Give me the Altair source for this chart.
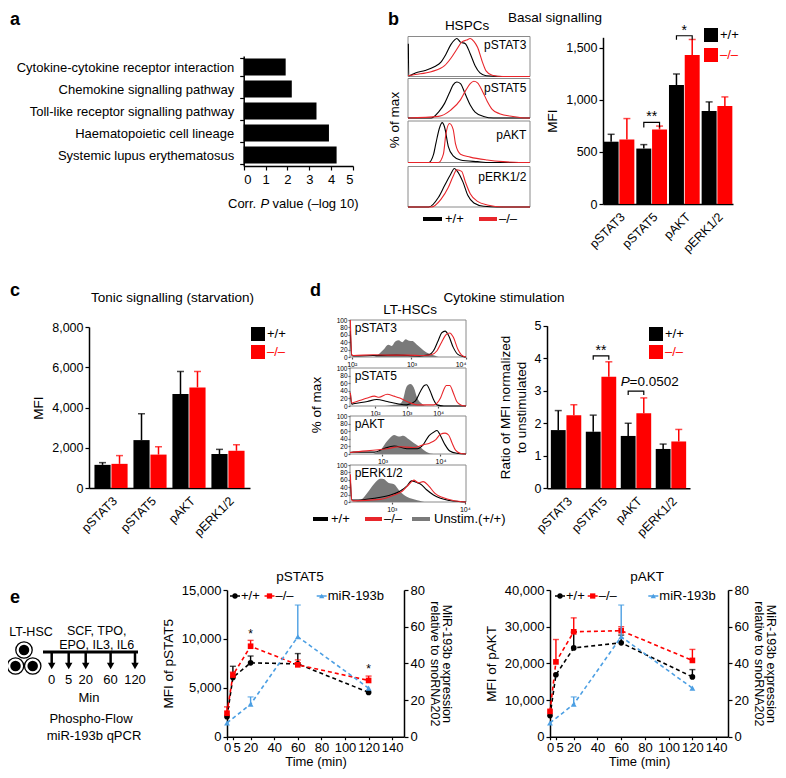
import altair as alt
import pandas as pd

W, H = 770, 762
FONT = "Liberation Sans"
RED = "#ff0000"
LRED = "#e8262b"
BLUE = "#4c9fe3"
GRAY = "#7a7a7a"


def X(p):
    return p - 8.0


def Y(p):
    return p - 8.0


# ---------------- data ----------------
pathways = [
    "Cytokine-cytokine receptor interaction",
    "Chemokine signalling pathway",
    "Toll-like receptor signalling pathway",
    "Haematopoietic cell lineage",
    "Systemic lupus erythematosus",
]
pathway_logp = [1.92, 2.2, 3.33, 3.9, 4.25]

proteins = ["pSTAT3", "pSTAT5", "pAKT", "pERK1/2"]
genotypes = ["+/+", "–/–"]

basal_wt = [598, 532, 1141, 893]
basal_wt_err = [669, 570, 1248, 980]
basal_ko = [619, 716, 1431, 941]
basal_ko_err = [820, 748, 1579, 1028]

tonic_wt = [1150, 2380, 4670, 1690]
tonic_wt_err = [1260, 3690, 5790, 1920]
tonic_ko = [1200, 1660, 5000, 1850]
tonic_ko_err = [1610, 2050, 5790, 2150]

stim_wt = [1.79, 1.74, 1.61, 1.21]
stim_wt_err = [2.39, 2.25, 2.00, 1.36]
stim_ko = [2.25, 3.43, 2.31, 1.44]
stim_ko_err = [2.57, 3.89, 2.78, 1.81]

# histograms, panel b (x: % of box width, y: % of max)
hb_stat3_wt_x = [0.3, 0.6, 2, 6, 14, 22, 27, 31, 35, 38, 40, 43, 47, 51, 55, 59, 64, 77, 100]
hb_stat3_wt_y = [82, 2, 3, 9, 15, 25, 36, 55, 79, 91, 95, 86, 82, 57, 27, 9, 2, 0, 0]
hb_stat3_ko_x = [0, 6, 19, 30, 35, 40, 44, 48, 51, 54, 57, 61, 64, 69, 78, 100]
hb_stat3_ko_y = [2, 5, 12, 27, 45, 68, 86, 91, 95, 88, 73, 36, 14, 3, 0, 0]
hb_stat5_wt_x = [0, 19, 25, 30, 34, 37, 40, 43, 47, 51, 55, 62, 70, 100]
hb_stat5_wt_y = [0, 0, 15, 37, 64, 84, 91, 87, 60, 33, 15, 4, 0, 0]
hb_stat5_ko_x = [0, 25, 35, 43, 47, 51, 54, 57, 61, 65, 69, 75, 86, 97, 100]
hb_stat5_ko_y = [0, 4, 20, 46, 68, 87, 93, 89, 68, 42, 22, 11, 4, 0, 0]
hb_akt_wt_x = [0, 17, 21, 23, 26, 28, 30, 33, 37, 43, 57, 67, 100]
hb_akt_wt_y = [0, 0, 20, 48, 85, 96, 85, 39, 16, 6, 2, 0, 0]
hb_akt_ko_x = [0, 25, 29, 31, 34, 37, 39, 43, 51, 65, 78, 91, 100]
hb_akt_ko_y = [0, 0, 20, 67, 94, 80, 44, 20, 13, 6, 2, 0, 0]
hb_erk_wt_x = [0, 17, 25, 30, 35, 38, 40, 45, 49, 54, 62, 73, 100]
hb_erk_wt_y = [0, 0, 24, 53, 81, 95, 90, 62, 29, 10, 2, 0, 0]
hb_erk_ko_x = [0, 19, 27, 33, 37, 40, 44, 47, 51, 57, 65, 78, 100]
hb_erk_ko_y = [0, 0, 19, 48, 76, 92, 88, 62, 33, 14, 5, 0, 0]

# histograms, panel d
hd_stat3_un_x = [0, 20, 25, 29, 33, 36, 39, 42, 45, 48, 51, 54, 57, 61, 66, 72, 78, 100]
hd_stat3_un_y = [0, 0, 8, 20, 33, 30, 42, 45, 40, 48, 44, 43, 35, 24, 12, 5, 0, 0]
hd_stat3_wt_x = [0.3, 1.5, 3, 20, 40, 60, 68, 72, 76, 79, 82, 85, 89, 93, 98, 100]
hd_stat3_wt_y = [70, 5, 3, 4, 5, 3, 6, 17, 44, 65, 70, 58, 26, 7, 1, 0]
hd_stat3_ko_x = [0.3, 1.5, 3, 20, 35, 50, 63, 70, 75, 79, 83, 86, 89, 93, 96, 100]
hd_stat3_ko_y = [100, 6, 4, 6, 5, 5, 4, 6, 17, 40, 61, 65, 54, 21, 6, 0]
hd_stat5_un_x = [0, 30, 38, 43, 46, 48, 50, 52, 55, 58, 62, 66, 100]
hd_stat5_un_y = [0, 0, 3, 6, 20, 45, 55, 58, 49, 21, 6, 0, 0]
hd_stat5_wt_x = [0.3, 1.5, 3, 15, 23, 32, 41, 49, 56, 61, 64, 66, 69, 72, 75, 81, 100]
hd_stat5_wt_y = [35, 5, 6, 12, 17, 12, 6, 3, 12, 40, 54, 56, 40, 17, 3, 0, 0]
hd_stat5_ko_x = [0.3, 1.5, 3, 9, 15, 21, 25, 32, 38, 43, 49, 58, 72, 78, 81, 83, 86, 89, 92, 96, 100]
hd_stat5_ko_y = [35, 8, 9, 15, 21, 26, 23, 31, 26, 21, 12, 3, 3, 21, 44, 54, 54, 35, 12, 2, 0]
hd_akt_un_x = [0, 19, 23, 27, 31, 35, 38, 42, 46, 51, 55, 61, 66, 72, 100]
hd_akt_un_y = [0, 0, 4, 12, 30, 44, 50, 46, 48, 38, 29, 17, 5, 0, 0]
hd_akt_wt_x = [0, 3, 21, 29, 38, 49, 58, 63, 68, 72, 75, 78, 82, 86, 92, 100]
hd_akt_wt_y = [4, 5, 5, 14, 21, 14, 14, 24, 48, 57, 62, 48, 24, 8, 2, 0]
hd_akt_ko_x = [0, 3, 32, 43, 55, 63, 69, 74, 78, 82, 85, 88, 91, 95, 100]
hd_akt_ko_y = [4, 5, 14, 19, 17, 24, 29, 38, 52, 55, 50, 29, 10, 2, 0]
hd_erk_un_x = [0, 9, 15, 18, 23, 26, 29, 33, 38, 43, 49, 58, 66, 100]
hd_erk_un_y = [0, 5, 25, 38, 57, 63, 62, 52, 48, 29, 14, 5, 0, 0]
hd_erk_wt_x = [0.3, 1.5, 3, 21, 35, 43, 49, 53, 56, 58, 61, 66, 72, 78, 86, 100]
hd_erk_wt_y = [60, 6, 5, 10, 19, 29, 43, 57, 55, 52, 48, 33, 19, 10, 4, 0]
hd_erk_ko_x = [0.3, 1.5, 3, 26, 38, 45, 51, 55, 59, 63, 68, 73, 80, 89, 100]
hd_erk_ko_y = [75, 5, 3, 7, 19, 29, 48, 59, 52, 55, 43, 24, 12, 4, 0]

# decade tick positions (% of box) and labels, panel d
hd_tick_pos = [[1.5, 53, 100], [21.5, 49, 76], [28, 78], [36, 99]]
hd_tick_lab = [["10²", "10³", "10⁴"], ["10²", "10³", "10⁴"], ["10³", "10⁴"], ["10³", "10⁴"]]

# panel e
schedule_min = [0, 5, 20, 60, 120]
times = [0, 5, 20, 60, 120]
stat5_wt = [2050, 6050, 7550, 7450, 4530]
stat5_wt_err = [2050, 7200, 8250, 8500, 4530]
stat5_ko = [2400, 6300, 9250, 7350, 5750]
stat5_ko_err = [3050, 6600, 9850, 7850, 6200]
akt_wt = [5750, 16900, 24200, 25600, 16300]
akt_wt_err = [5750, 16900, 28500, 27700, 18300]
akt_ko = [6900, 20400, 28600, 28900, 20800]
akt_ko_err = [6900, 26500, 32400, 30000, 23800]
mir_times = [0, 20, 60, 120]
mir = [7.5, 17.7, 54.5, 26.5]
mir_err = [7.5, 21.7, 71.8, 26.5]
stat5_star_t = [20, 120]
stat5_star_v = [10500, 6900]
time_ticks = [0, 5, 20, 40, 60, 80, 100, 120, 140]

ONE = pd.DataFrame({"a": [0]})


# ---------------- helpers ----------------
def txt(s, x, y, size=13, align="center", baseline="middle", angle=0, color="black",
        weight="normal", style="normal"):
    return alt.Chart(pd.DataFrame({"s": [s]})).mark_text(
        align=align, baseline=baseline, fontSize=size, angle=angle, color=color,
        fontWeight=weight, fontStyle=style, font=FONT
    ).encode(x=alt.value(X(x)), y=alt.value(Y(y)), text="s:N")


def hline(x1, x2, y, color="black", width=1.5):
    return alt.Chart(ONE).mark_rule(color=color, strokeWidth=width).encode(
        x=alt.value(X(x1)), x2=alt.value(X(x2)), y=alt.value(Y(y)))


def sym(x, y, color, shape="square", size=196, filled=True, sw=1.2):
    return alt.Chart(ONE).mark_point(shape=shape, filled=filled, color=color, size=size,
                                     opacity=1, strokeWidth=sw).encode(
        x=alt.value(X(x)), y=alt.value(Y(y)))


def bar_panel(wt, wt_err, ko, ko_err, xr, pin, pout, ydom, yr, yticks, ytitle, yfmt,
              brackets=(), cap=7):
    n = len(proteins)
    df = pd.DataFrame({
        "protein": proteins * 2,
        "genotype": [genotypes[0]] * n + [genotypes[1]] * n,
        "value": list(wt) + list(ko),
        "err": list(wt_err) + list(ko_err),
    })
    xs = alt.Scale(domain=proteins, range=[X(xr[0]), X(xr[1])],
                   paddingInner=pin, paddingOuter=pout)
    ys = alt.Scale(domain=ydom, range=[Y(yr[0]), Y(yr[1])], nice=False, zero=True)
    xo = alt.XOffset("genotype:N", sort=genotypes,
                     scale=alt.Scale(domain=genotypes, paddingInner=0.05))
    col = alt.Color("genotype:N", legend=None,
                    scale=alt.Scale(domain=genotypes, range=["black", RED]))
    x_axis = alt.Axis(orient="bottom", offset=Y(yr[0]) - H, labels=False, ticks=False)
    y_axis = alt.Axis(orient="left", offset=-X(xr[0]), values=yticks,
                      format=yfmt, labelFontSize=12.5, titlePadding=6)
    xenc = alt.X("protein:N", sort=proteins, scale=xs, title=None, axis=x_axis)

    def yenc(field):
        return alt.Y(field, scale=ys, title=ytitle, axis=y_axis)

    base = alt.Chart(df)
    bars = base.mark_bar().encode(x=xenc, xOffset=xo, y=yenc("value:Q"), color=col)
    rules = base.mark_rule(strokeWidth=1.5).encode(
        x=xenc, xOffset=xo, y=yenc("value:Q"), y2="err:Q", color=col)
    caps = base.mark_tick(thickness=1.5, size=cap, orient="horizontal").encode(
        x=xenc, xOffset=xo, y=yenc("err:Q"), color=col)
    # rotated category labels
    labs = alt.Chart(pd.DataFrame({"protein": proteins})).mark_text(
        angle=315, align="right", baseline="middle", fontSize=12.5, font=FONT, dx=2.8, dy=2.8
    ).encode(x=xenc, y=alt.value(Y(yr[0]) + 11), text="protein:N")
    layers = [bars, rules, caps, labs]
    for (prot, y1, y2, label) in brackets:
        bdf = pd.DataFrame({"protein": [prot] * 4,
                            "genotype": [genotypes[0], genotypes[0], genotypes[1], genotypes[1]],
                            "v": [y1, y2, y2, y1], "o": [0, 1, 2, 3]})
        layers.append(alt.Chart(bdf).mark_line(color="black", strokeWidth=1.2).encode(
            x=xenc, xOffset=xo, y=yenc("v:Q"), order="o:Q"))
        if label:
            sdf = pd.DataFrame({"protein": [prot], "v": [y2], "s": [label]})
            layers.append(alt.Chart(sdf).mark_text(
                baseline="bottom", fontSize=14, font=FONT, dy=2).encode(
                x=xenc, y=yenc("v:Q"), text="s:N"))
    return alt.layer(*layers)


def hist_box(xr, top, bottom, curves, label, lx, ly, lalign, lsize,
             ticks=None, ticklabels=None):
    xs = alt.Scale(domain=[0, 100], range=[X(xr[0]), X(xr[1])], nice=False, zero=False)
    ys = alt.Scale(domain=[0, 100], range=[Y(bottom), Y(top)], nice=False)
    if ticks is not None:
        expr = "''"
        for p, l in zip(reversed(ticks), reversed(ticklabels)):
            expr = f"datum.value == {p} ? '{l}' : ({expr})"
        xaxis = alt.Axis(orient="bottom", offset=Y(bottom) - H, values=ticks, labelExpr=expr,
                         labelFontSize=7, tickSize=2, domain=False, labelPadding=1,
                         labelOverlap=False, title=None, tickColor="#555")
        yaxis = alt.Axis(orient="left", offset=-X(xr[0]), values=[0, 20, 40, 60, 80, 100],
                         labelFontSize=6.5, tickSize=2, domain=False, labelPadding=1,
                         labelOverlap=False, title=None, tickColor="#555")
    else:
        xaxis = None
        yaxis = None

    def xe(f):
        return alt.X(f, scale=xs, axis=xaxis, title=None)

    def ye(f):
        return alt.Y(f, scale=ys, axis=yaxis, title=None)

    frame = alt.Chart(pd.DataFrame({"x0": [0], "x1": [100], "y0": [0], "y1": [100]})).mark_rect(
        fillOpacity=0, stroke="#8a8a8a", strokeWidth=1).encode(
        x=xe("x0:Q"), x2="x1:Q", y=ye("y0:Q"), y2="y1:Q")
    layers = [frame]
    for (cx, cy, color, kind) in curves:
        cdf = pd.DataFrame({"x": cx, "y": cy})
        if kind == "area":
            layers.append(alt.Chart(cdf).mark_area(
                interpolate="monotone", color=color, opacity=1).encode(
                x=xe("x:Q"), y=ye("y:Q")))
        else:
            layers.append(alt.Chart(cdf).mark_line(
                interpolate="monotone", color=color, strokeWidth=1.1).encode(
                x=xe("x:Q"), y=ye("y:Q")))
    ldf = pd.DataFrame({"x": [lx], "y": [ly], "s": [label]})
    layers.append(alt.Chart(ldf).mark_text(align=lalign, baseline="middle", fontSize=lsize,
                                           font=FONT).encode(
        x=xe("x:Q"), y=ye("y:Q"), text="s:N"))
    return alt.layer(*layers)


def time_panel(wt, wt_err, ko, ko_err, xr, ydom, yticks, ytitle, stars_t=(), stars_v=()):
    n = len(times)
    df = pd.DataFrame({"t": times * 2,
                       "g": [genotypes[0]] * n + [genotypes[1]] * n,
                       "v": list(wt) + list(ko),
                       "e": list(wt_err) + list(ko_err)})
    xs = alt.Scale(domain=[0, 150], range=[X(xr[0]), X(xr[1])], nice=False, zero=False)
    yb, yt = 736.7, 590
    ys = alt.Scale(domain=ydom, range=[Y(yb), Y(yt)], nice=False)
    ys2 = alt.Scale(domain=[0, 80], range=[Y(yb), Y(yt)], nice=False)
    col = alt.Color("g:N", legend=None, scale=alt.Scale(domain=genotypes, range=["black", RED]))
    shp = alt.Shape("g:N", legend=None, scale=alt.Scale(domain=genotypes, range=["circle", "square"]))
    x_axis = alt.Axis(orient="bottom", offset=Y(yb) - H, values=time_ticks,
                      labelOverlap=False, tickSize=3, labelPadding=2, labelFontSize=13,
                      titlePadding=1, titleFontSize=13,
                      labelAlign={"condition": {"test": "datum.value == 5", "value": "left"},
                                  "value": "center"})
    y_axis = alt.Axis(orient="left", offset=-X(xr[0]), values=yticks, format=",.0f",
                      labelFontSize=13, titlePadding=6)
    y2_axis = alt.Axis(orient="right", offset=X(xr[1]) - W, values=[0, 20, 40, 60, 80],
                       labelFontSize=13, titlePadding=3, titleFontSize=12.5, titleLineHeight=12)
    y2_title = ["MiR-193b expression", "relative to snoRNA202"]
    xenc = alt.X("t:Q", scale=xs, title="Time (min)", axis=x_axis)

    def ye(f):
        return alt.Y(f, scale=ys, title=ytitle, axis=y_axis)

    def ye2(f):
        return alt.Y(f, scale=ys2, title=y2_title, axis=y2_axis)

    base = alt.Chart(df)
    lines = base.mark_line(strokeDash=[4, 3], strokeWidth=1.6).encode(
        x=xenc, y=ye("v:Q"), color=col, detail="g:N")
    errs = base.transform_filter("datum.e > datum.v").mark_rule(strokeWidth=1.4).encode(
        x=xenc, y=ye("v:Q"), y2="e:Q", color=col)
    caps = base.transform_filter("datum.e > datum.v").mark_tick(
        orient="horizontal", size=6, thickness=1.4).encode(
        x=xenc, y=ye("e:Q"), color=col)
    pts = base.mark_point(filled=True, size=32, opacity=1).encode(
        x=xenc, y=ye("v:Q"), color=col, shape=shp)
    left_layers = [lines, errs, caps, pts]
    if len(stars_t):
        sdf = pd.DataFrame({"t": list(stars_t), "v": list(stars_v), "s": ["*"] * len(stars_t)})
        left_layers.append(alt.Chart(sdf).mark_text(fontSize=12, font=FONT).encode(
            x=xenc, y=ye("v:Q"), text="s:N"))
    left = alt.layer(*left_layers)

    mdf = pd.DataFrame({"t": mir_times, "v": mir, "e": mir_err})
    mb = alt.Chart(mdf)
    mline = mb.mark_line(strokeDash=[4, 3], strokeWidth=1.6, color=BLUE).encode(
        x=xenc, y=ye2("v:Q"))
    merr = mb.transform_filter("datum.e > datum.v").mark_rule(strokeWidth=1.4, color=BLUE).encode(
        x=xenc, y=ye2("v:Q"), y2="e:Q")
    mcap = mb.transform_filter("datum.e > datum.v").mark_tick(
        orient="horizontal", size=6, thickness=1.4, color=BLUE).encode(
        x=xenc, y=ye2("e:Q"))
    mpts = mb.mark_point(filled=True, size=34, opacity=1, shape="triangle-up", color=BLUE).encode(
        x=xenc, y=ye2("v:Q"))
    right = alt.layer(mline, merr, mcap, mpts)
    return alt.layer(left, right).resolve_scale(y="independent")


def e_legend(xb, xr_, xbl, y):
    out = []
    for mx, color, shape, label in [(xb, "black", "circle", "+/+"),
                                    (xr_, RED, "square", "–/–"),
                                    (xbl, BLUE, "triangle-up", "miR-193b")]:
        out.append(hline(mx - 5, mx + 5, y, color, 1.5))
        out.append(sym(mx, y, color, shape, 28))
        out.append(txt(label, mx + 6, y, 13, align="left"))
    return out


layers = []

# ---------------- panel a ----------------
adf = pd.DataFrame({"pathway": pathways, "logp": pathway_logp})
a_x = alt.Scale(domain=[0, 5], range=[X(243.7), X(353)], nice=False)
a_y = alt.Scale(domain=pathways, range=[Y(56), Y(166)], paddingInner=0.22, paddingOuter=0.11)
layers.append(alt.Chart(adf).mark_bar(color="black").encode(
    x=alt.X("logp:Q", scale=a_x, title=None,
            axis=alt.Axis(orient="bottom", offset=Y(166) - H, values=[0, 1, 2, 3, 4, 5],
                          labelFontSize=13, tickSize=4, labelPadding=3)),
    y=alt.Y("pathway:N", sort=pathways, scale=a_y, title=None,
            axis=alt.Axis(orient="left", offset=-X(243.7), tickBand="extent", labelLimit=400,
                          labelFontSize=13, tickSize=4, labelPadding=6)),
))
layers += [
    txt("a", 10, 20, 18, align="left", weight="bold"),
    txt("Corr.", 228, 204, 13, align="left"),
    txt("P", 260.5, 204, 13, align="left", style="italic"),
    txt("value (–log 10)", 272.5, 204, 13, align="left"),
]

# ---------------- panel b ----------------
layers += [txt("b", 388, 20, 18, align="left", weight="bold"),
           txt("HSPCs", 467, 26, 13.5),
           txt("Basal signalling", 555, 18, 13.5),
           txt("% of max", 395, 120, 13.5, angle=270)]
b_boxes = [
    (36.5, 76.5, "pSTAT3", hb_stat3_wt_x, hb_stat3_wt_y, hb_stat3_ko_x, hb_stat3_ko_y, 79),
    (78.5, 118, "pSTAT5", hb_stat5_wt_x, hb_stat5_wt_y, hb_stat5_ko_x, hb_stat5_ko_y, 75),
    (121, 162.5, "pAKT", hb_akt_wt_x, hb_akt_wt_y, hb_akt_ko_x, hb_akt_ko_y, 67),
    (166.5, 207, "pERK1/2", hb_erk_wt_x, hb_erk_wt_y, hb_erk_ko_x, hb_erk_ko_y, 75),
]
for top, bot, lab, wx, wy, kx, ky, ly in b_boxes:
    layers.append(hist_box((408, 530), top, bot,
                           [(wx, wy, "black", "line"), (kx, ky, LRED, "line")],
                           lab, 97, ly, "right", 12))
layers += [hline(423, 442, 219, "black", 4), txt("+/+", 445, 219, 13, align="left"),
           hline(479, 497, 219, LRED, 4), txt("–/–", 499, 219, 13, align="left")]

layers.append(bar_panel(basal_wt, basal_wt_err, basal_ko, basal_ko_err,
                        (603, 733), 0.06, 0.02, [0, 1600], (204, 37.3), [0, 500, 1000, 1500], "MFI",
                        ",.0f",
                        brackets=[("pSTAT5", 735, 783, "**"), ("pAKT", 1576, 1615, "*")]))
layers += [sym(711, 35, "black"), txt("+/+", 720, 35, 13, align="left"),
           sym(711, 55, RED), txt("–/–", 720, 55, 13, align="left", color=RED)]

# ---------------- panel c ----------------
layers += [txt("c", 10, 291, 18, align="left", weight="bold"),
           txt("Tonic signalling (starvation)", 172.5, 298, 13.5)]
layers.append(bar_panel(tonic_wt, tonic_wt_err, tonic_ko, tonic_ko_err,
                        (89, 250), 0.15, 0.14, [0, 8000], (488, 327),
                        [0, 2000, 4000, 6000, 8000], "MFI", ",.0f"))
layers += [sym(258, 334, "black"), txt("+/+", 267, 334, 13, align="left"),
           sym(258, 352, RED), txt("–/–", 267, 352, 13, align="left", color=RED)]

# ---------------- panel d ----------------
layers += [txt("d", 310, 291, 18, align="left", weight="bold"),
           txt("Cytokine stimulation", 504, 297.5, 13.5),
           txt("LT-HSCs", 410, 310, 13.5),
           txt("% of max", 317, 405, 13.5, angle=270)]
d_boxes = [
    (320, 357, "pSTAT3", hd_stat3_un_x, hd_stat3_un_y, hd_stat3_wt_x, hd_stat3_wt_y, hd_stat3_ko_x, hd_stat3_ko_y),
    (368, 406, "pSTAT5", hd_stat5_un_x, hd_stat5_un_y, hd_stat5_wt_x, hd_stat5_wt_y, hd_stat5_ko_x, hd_stat5_ko_y),
    (416, 454, "pAKT", hd_akt_un_x, hd_akt_un_y, hd_akt_wt_x, hd_akt_wt_y, hd_akt_ko_x, hd_akt_ko_y),
    (465, 502, "pERK1/2", hd_erk_un_x, hd_erk_un_y, hd_erk_wt_x, hd_erk_wt_y, hd_erk_ko_x, hd_erk_ko_y),
]
for i, (top, bot, lab, ux, uy, wx, wy, kx, ky) in enumerate(d_boxes):
    layers.append(hist_box((350, 466), top, bot,
                           [(ux, uy, GRAY, "area"), (wx, wy, "black", "line"), (kx, ky, LRED, "line")],
                           lab, 4, 78, "left", 12, ticks=hd_tick_pos[i], ticklabels=hd_tick_lab[i]))
layers += [hline(313, 328, 519, "black", 4), txt("+/+", 331, 519, 13, align="left"),
           hline(365, 382, 519, LRED, 4), txt("–/–", 384, 519, 13, align="left"),
           hline(412, 430, 519, GRAY, 4), txt("Unstim.(+/+)", 434, 519, 13, align="left")]

layers.append(bar_panel(stim_wt, stim_wt_err, stim_ko, stim_ko_err,
                        (547, 690), 0.13, 0.11, [0, 5], (488.3, 325.7), [0, 1, 2, 3, 4, 5],
                        ["Ratio of MFI normalized", "to unstimulated"], "d",
                        brackets=[("pSTAT5", 3.95, 4.07, "**"), ("pAKT", 2.87, 2.99, "")]))
layers += [sym(656, 334, "black"), txt("+/+", 665, 334, 13, align="left"),
           sym(656, 352, RED), txt("–/–", 665, 352, 13, align="left", color=RED),
           txt("P", 620.7, 381.7, 13.5, align="left", style="italic"),
           txt("=0.0502", 629.5, 381.7, 13.5, align="left")]

# ---------------- panel e ----------------
layers += [txt("e", 10, 598, 18, align="left", weight="bold"),
           txt("LT-HSC", 31, 632, 12.5),
           txt("SCF, TPO,", 96.7, 631, 12.5),
           txt("EPO, IL3, IL6", 96.7, 645, 12.5),
           txt("Min", 89, 697.5, 13),
           txt("Phospho-Flow", 91, 719, 13),
           txt("miR-193b qPCR", 94, 736, 13)]
for cx, cy in [(24, 650), (15.5, 666), (32.7, 666)]:
    layers.append(sym(cx, cy, "black", "circle", 270, filled=False, sw=1.3))
    layers.append(sym(cx, cy, "black", "circle", 110, filled=True))
layers.append(hline(43, 138, 652, "black", 3))
sch = pd.DataFrame({"t": schedule_min, "lab": [str(v) for v in schedule_min]})
sch_x = alt.X("t:Q", scale=alt.Scale(type="sqrt", domain=[0, 120], range=[X(51.7), X(135)]), axis=None)
layers.append(alt.layer(
    alt.Chart(sch).mark_rule(strokeWidth=2.5, color="black").encode(
        x=sch_x, y=alt.value(Y(652)), y2=alt.value(Y(664))),
    alt.Chart(sch).mark_point(shape="triangle-down", filled=True, size=55, color="black",
                              opacity=1).encode(x=sch_x, y=alt.value(Y(666))),
    alt.Chart(sch).mark_text(fontSize=13, font=FONT).encode(
        x=sch_x, y=alt.value(Y(680)), text="lab:N"),
))

layers += [txt("pSTAT5", 300, 577, 13.5), txt("pAKT", 647, 577, 13.5)]
layers.append(time_panel(stat5_wt, stat5_wt_err, stat5_ko, stat5_ko_err, (227, 404),
                         [0, 15000], [0, 5000, 10000, 15000], "MFI of pSTAT5",
                         stat5_star_t, stat5_star_v))
layers.append(time_panel(akt_wt, akt_wt_err, akt_ko, akt_ko_err, (550, 728),
                         [0, 40000], [0, 10000, 20000, 30000, 40000], "MFI of pAKT"))
layers += e_legend(235, 269.5, 321.7, 596)
layers += e_legend(560, 592.7, 653.3, 596)

chart = alt.layer(*layers).resolve_scale(
    x="independent", y="independent", color="independent", shape="independent",
    xOffset="independent"
).properties(
    width=W, height=H, padding=0, autosize=alt.AutoSizeParams(type="none")
).configure_view(stroke=None).configure_axis(
    grid=False, labelFont=FONT, titleFont=FONT, labelFontSize=12.5, titleFontSize=13.5,
    titleFontWeight="normal", domainColor="black", tickColor="black", labelColor="black",
    titleColor="black", domainWidth=1.5, tickWidth=1.2, tickSize=4
).configure_text(font=FONT)

chart.save("out.html", embed_options={"renderer": "svg", "actions": False})
